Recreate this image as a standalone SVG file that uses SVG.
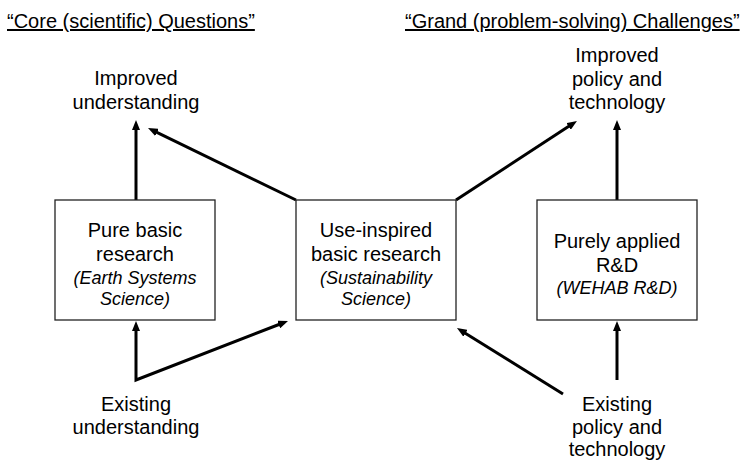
<svg xmlns="http://www.w3.org/2000/svg" width="741" height="463" viewBox="0 0 741 463">
<style>
text{font-family:"Liberation Sans",Arial,sans-serif;font-size:20px;fill:#000;text-anchor:middle}
.it{font-style:italic;font-size:18px}
.title{text-anchor:start;text-decoration:underline}
.box{fill:#fff;stroke:#222;stroke-width:1.3}
.arr{fill:none;stroke:#000;stroke-width:3;stroke-linejoin:miter}
</style>
<defs>
<marker id="ah" viewBox="0 0 10 8" refX="3" refY="4" markerWidth="10" markerHeight="8" markerUnits="userSpaceOnUse" orient="auto-start-reverse">
<path d="M0,0 L10,4 L0,8 z" fill="#000"/>
</marker>
</defs>
<rect width="741" height="463" fill="#fff"/>
<g id="titles">
<text class="title" x="7" y="28">“Core (scientific) Questions”</text>
<text class="title" x="405" y="28">“Grand (problem-solving) Challenges”</text>
</g>
<g id="connectors">
<line class="arr" x1="136" y1="200" x2="136" y2="127" marker-end="url(#ah)"/>
<line class="arr" x1="296" y1="200" x2="154.3" y2="131.1" marker-end="url(#ah)"/>
<line class="arr" x1="456" y1="200" x2="571.1" y2="124.8" marker-end="url(#ah)"/>
<line class="arr" x1="617" y1="200" x2="617" y2="127" marker-end="url(#ah)"/>
<path class="arr" d="M136,328 L136,380 L281.5,323.5" marker-start="url(#ah)" marker-end="url(#ah)"/>
<line class="arr" x1="563" y1="394" x2="462.9" y2="331.7" marker-end="url(#ah)"/>
<line class="arr" x1="617" y1="380" x2="617" y2="328" marker-end="url(#ah)"/>
</g>
<g id="improved-understanding">
<text x="136" y="85">Improved</text>
<text x="136" y="108.5">understanding</text>
</g>
<g id="improved-policy">
<text x="617" y="62">Improved</text>
<text x="617" y="85.5">policy and</text>
<text x="617" y="108.5">technology</text>
</g>
<g id="pure-basic">
<rect class="box" x="55" y="200" width="160" height="120"/>
<text x="135" y="237">Pure basic</text>
<text x="135" y="261">research</text>
<text class="it" x="135" y="284">(Earth Systems</text>
<text class="it" x="135" y="305">Science)</text>
</g>
<g id="use-inspired">
<rect class="box" x="296" y="200" width="160" height="120"/>
<text x="376" y="237">Use-inspired</text>
<text x="376" y="261">basic research</text>
<text class="it" x="376" y="284">(Sustainability</text>
<text class="it" x="376" y="305">Science)</text>
</g>
<g id="purely-applied">
<rect class="box" x="537" y="200" width="160" height="120"/>
<text x="617" y="248">Purely applied</text>
<text x="617" y="272">R&amp;D</text>
<text class="it" x="617" y="294">(WEHAB R&amp;D)</text>
</g>
<g id="existing-understanding">
<text x="136" y="411">Existing</text>
<text x="136" y="434">understanding</text>
</g>
<g id="existing-policy">
<text x="617" y="411">Existing</text>
<text x="617" y="434">policy and</text>
<text x="617" y="456">technology</text>
</g>
</svg>
